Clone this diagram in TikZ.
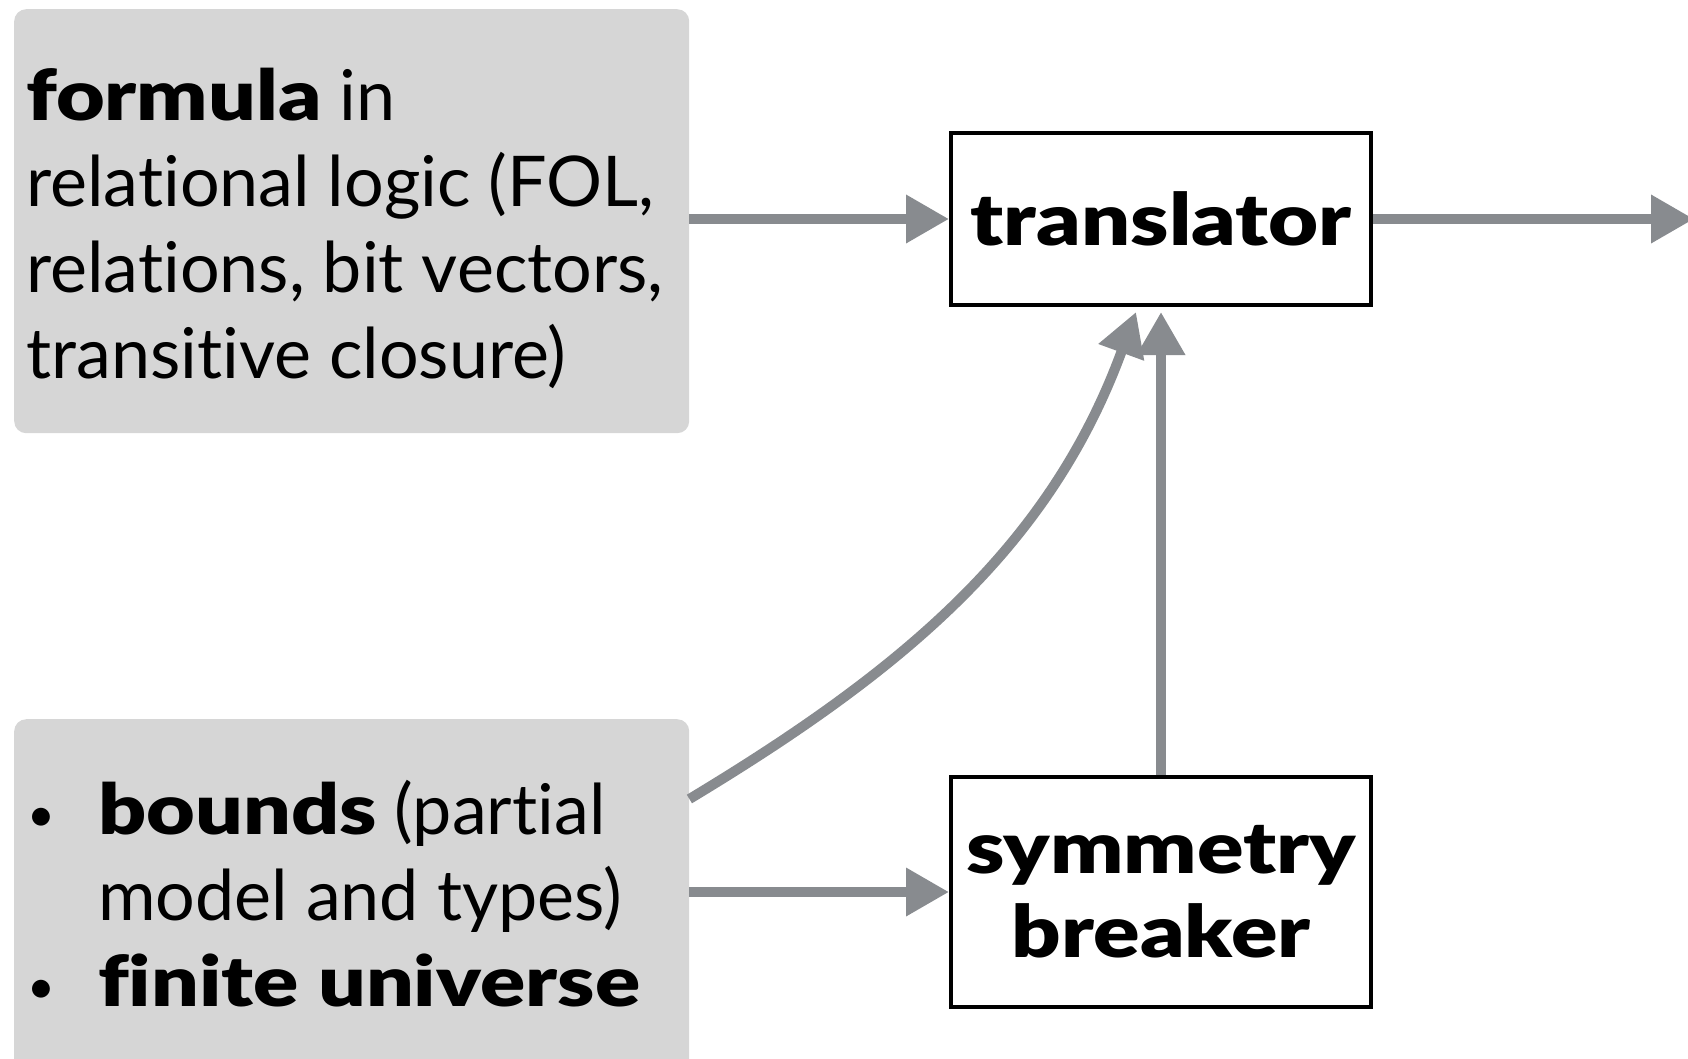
\documentclass[tikz,border=0pt]{standalone}
\usepackage{fontspec}
\setmainfont{Lato}[Ligatures=NoCommon,BoldFont={Lato Black},BoldFeatures={FakeStretch=1.2}]
\usetikzlibrary{arrows.meta,calc}
\definecolor{panelgray}{HTML}{D6D6D6}
\definecolor{flowgray}{HTML}{888B8F}
\newcommand{\listdot}{\makebox[71pt][l]{\raisebox{3pt}{\fontsize{48}{48}\selectfont\textbullet}}}
\begin{document}
\begin{tikzpicture}[x=1pt,y=-1pt,
  panel/.style={fill=panelgray, rounded corners=12pt, draw=none, inner sep=0pt, anchor=north west},
  stage/.style={draw=black, line width=4pt, fill=white, inner sep=0pt, align=center,
                font=\bfseries\fontsize{72}{84}\selectfont},
  body/.style={inner sep=0pt, anchor=base west, font=\fontsize{70}{86}\selectfont},
  flowline/.style={draw=flowgray, line width=10pt, -{Triangle[length=43pt,width=46pt]}}]

\useasboundingbox (0,0) rectangle (1688,1058);

% input panels
\node[panel, minimum width=675pt, minimum height=424pt] (fbox) at (14,9) {};
\node[panel, minimum width=675pt, minimum height=360pt] (bbox) at (14,719) {};

\node[body] (ftext) at (26,120) {\begin{tabular}[t]{@{}l@{}}
  \textbf{formula} in\\
  relational logic (FOL,\\
  relations, bit vectors,\\
  transitive closure)
\end{tabular}};

\node[body] (btext) at (27,834) {\begin{tabular}[t]{@{}l@{}l@{}}
  \listdot & \textbf{bounds} (partial\\
   & model and types)\\
  \listdot & \textbf{finite universe}
\end{tabular}};

% processing stages
\node[stage, minimum width=420pt, minimum height=172pt] (trans) at (1161,219) {translator};
\node[stage, minimum width=420pt, minimum height=230pt] (sym) at (1161,892) {symmetry\\breaker};

% connectors
\coordinate (exit) at (1694,219);
\draw[flowline] (fbox.east |- trans.west) -- (trans.west);
\draw[flowline] (trans.east) -- (exit);
\draw[flowline] (bbox.east |- sym.west) -- (sym.west);
\draw[flowline] (sym.north) -- ([yshift=-5pt]trans.south);
\draw[flowline] ([yshift=-80pt]bbox.north east) .. controls +(214,-129) and +(-86,235) .. ([xshift=-25pt,yshift=-5pt]trans.south);
\end{tikzpicture}
\end{document}
